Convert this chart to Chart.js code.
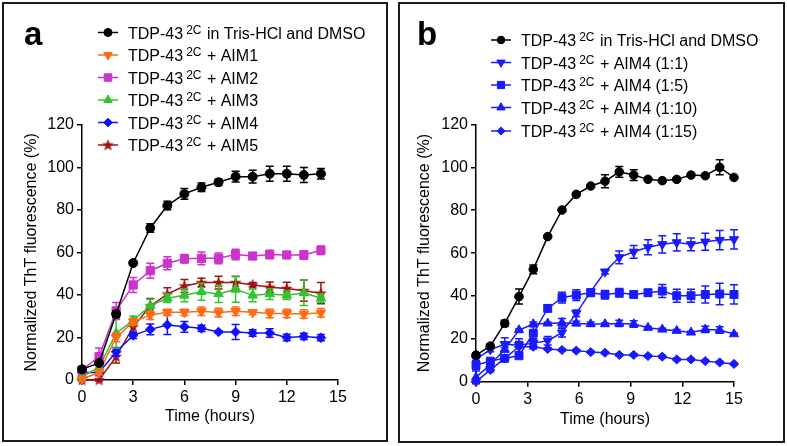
<!DOCTYPE html>
<html>
<head>
<meta charset="utf-8">
<script src="https://cdn.jsdelivr.net/npm/chart.js@4"></script>
<style>
  body { margin: 0; background: #fff; }
  #wrap { position: relative; width: 787px; height: 446px; overflow: hidden; }
  .box { position: absolute; box-sizing: border-box; border: 2px solid #1b1b1b; }
  canvas { position: absolute; top: 0; }
</style>
</head>
<body>
<div id="wrap">
  <div class="box" style="left:2px;top:2px;width:386px;height:440px"></div>
  <div class="box" style="left:398px;top:2px;width:387px;height:441px"></div>
  <canvas id="chartA" width="393" height="446" style="left:0"></canvas>
  <canvas id="chartB" width="394" height="446" style="left:393px"></canvas>
</div>
<script>
// --- data, panel a (one reading per hour) ---
const timeA = [0, 1, 2, 3, 4, 5, 6, 7, 8, 9, 10, 11, 12, 13, 14]
const dmsoA = [5, 8, 31, 55, 71.5, 82, 87.5, 90.6, 93, 95.6, 95.6, 97, 97, 96.4, 97]
const dmsoAErr = [1, 1, 1.5, 1, 2, 2, 2.5, 2, 1.5, 2.5, 3, 3.5, 3.5, 3.5, 2.5]
const aim1 = [0.5, 3.5, 20, 27.4, 30.5, 31.8, 31.8, 32.3, 31.7, 32.3, 31.8, 31.3, 31.3, 31, 31.6]
const aim1Err = [1, 1, 2, 1.5, 2, 1.5, 1.5, 2, 2, 2, 1, 2, 2, 2, 2]
const aim2 = [4.7, 11, 32.5, 44.7, 51.4, 54.9, 57, 57.2, 57.2, 59, 58.3, 59, 58.8, 58.8, 61]
const aim2Err = [1, 4, 4, 3.5, 3.5, 3, 2, 3, 2.5, 2.5, 1.5, 2, 1.5, 2, 2]
const aim3 = [1.5, 6, 22, 28, 35, 38.4, 39.8, 41.5, 40.5, 42.6, 39.8, 40.4, 39.8, 41, 38.4]
const aim3Err = [1, 1.5, 7, 2, 3, 2, 3, 4, 4, 6, 3, 2.5, 2, 6, 2]
const aim4 = [3.5, 3.5, 13.3, 21, 23.8, 25.9, 25, 24.3, 22.6, 22.6, 22.1, 22.1, 20, 20.5, 19.9]
const aim4Err = [1.5, 1.5, 2, 1.5, 2.5, 4.5, 2.5, 1.5, 0.5, 3.5, 1.5, 2, 1.5, 1.5, 1.5]
const aim5 = [0, 0, 11, 25, 34.8, 40.4, 44.2, 45.8, 45.8, 45.8, 44.8, 43.6, 43, 42, 40.8]
const aim5Err = [0.5, 0.5, 3, 3, 3.5, 3, 3, 2, 3, 3, 1, 2.5, 3, 5, 5]

// --- data, panel b (reading every 50 min) ---
const timeB = [0, 0.83, 1.67, 2.5, 3.33, 4.17, 5, 5.83, 6.67, 7.5, 8.33, 9.17, 10, 10.83, 11.67, 12.5, 13.33, 14.17, 15]
const dmsoB = [12.4, 16.6, 27.2, 39.7, 52.4, 67.7, 80.1, 87.4, 91.3, 93.5, 97.9, 96.4, 94.4, 93.8, 94.4, 96.4, 96.1, 100, 95.3]
const dmsoBErr = [1, 1, 1.5, 3.5, 2, 0.5, 0.5, 0.5, 0.5, 3, 2.5, 2.5, 0.5, 0.5, 0.5, 0.5, 0.5, 3.5, 0.5]
const ratio1 = [10.5, 15, 17.5, 17, 18, 19.1, 22.9, 31.9, 42, 51.3, 58, 60.6, 62.7, 64.1, 65, 64.1, 65.3, 66.1, 66.4]
const ratio1Err = [3, 1, 3, 3, 2, 2, 2, 1.5, 1, 1, 3, 3, 3.5, 4, 4, 3, 4, 4.5, 4.5]
const ratio5 = [7.8, 9.6, 10.9, 12.1, 22.6, 34.2, 39.2, 40.4, 41.5, 40.6, 41.5, 40.7, 41.5, 42.3, 40.1, 40.1, 40.7, 40.9, 40.7]
const ratio5Err = [2, 1, 1, 1, 3, 1.5, 2.5, 2.5, 1.5, 2, 2, 0.5, 1.5, 3, 3, 3, 4, 5, 4.5]
const ratio10 = [2, 8, 15, 24.1, 26.9, 27.2, 27.5, 27.2, 26.9, 26.9, 27.2, 26.9, 25.2, 24.4, 23.8, 23, 24.4, 24.1, 22.2]
const ratio10Err = [3, 1, 1, 0.5, 1, 0.5, 2, 1, 1, 0.5, 1.5, 1.5, 0.5, 0.5, 0.5, 0.5, 1.5, 1.5, 0.5]
const ratio15 = [0, 5.5, 10.9, 16.3, 16.3, 15.3, 14.8, 14.5, 13.8, 13.5, 12.5, 12.5, 12, 11.7, 10.4, 10.4, 9.6, 9, 8.3]
const ratio15Err = [0.5, 1, 1, 2.5, 1, 0.5, 0.5, 0.5, 0.5, 0.5, 0.5, 0.5, 0.5, 0.5, 0.5, 0.5, 0.5, 0.5, 0.5]

// legend / axis text
const namesA = [' in Tris-HCl and DMSO', ' + AIM1', ' + AIM2', ' + AIM3', ' + AIM4', ' + AIM5']
const namesB = [' in Tris-HCl and DMSO', ' + AIM4 (1:1)', ' + AIM4 (1:5)', ' + AIM4 (1:10)', ' + AIM4 (1:15)']
const yTicks = [0, 20, 40, 60, 80, 100, 120]
const xTicks = [0, 3, 6, 9, 12, 15]

const FONT = 'Arial, "Liberation Sans", sans-serif'

// filled five point star for AIM5
function starImage(color) {
    const c = document.createElement('canvas')
    c.width = 13; c.height = 13
    const g = c.getContext('2d')
    g.fillStyle = color
    g.beginPath()
    for (let i = 0; i < 10; i++) {
        const r = i % 2 === 0 ? 6.3 : 2.6
        const a = -Math.PI / 2 + i * Math.PI / 5
        const px = 6.5 + r * Math.cos(a), py = 6.8 + r * Math.sin(a)
        i === 0 ? g.moveTo(px, py) : g.lineTo(px, py)
    }
    g.closePath()
    g.fill()
    return c
}

function series(x, y, err, color, style, radius, rotation) {
    return {
        data: x.map((t, i) => ({x: t, y: y[i]})),
        err: err,
        borderColor: color,
        backgroundColor: color,
        pointBackgroundColor: color,
        pointBorderColor: color,
        pointStyle: style,
        pointRadius: radius,
        pointHoverRadius: radius,
        pointRotation: rotation || 0,
        pointBorderWidth: 1,
        borderWidth: 1.5,
        tension: 0,
        clip: false
    }
}

// error bars drawn under each dataset
const errorBars = {
    id: 'errorBars',
    beforeDatasetDraw(chart, args) {
        const ds = chart.data.datasets[args.index]
        if (!ds.err) return
        const ys = chart.scales.y, ctx = chart.ctx
        const meta = chart.getDatasetMeta(args.index)
        ctx.save()
        ctx.strokeStyle = ds.borderColor
        ctx.lineWidth = 1.5
        meta.data.forEach((pt, i) => {
            const e = ds.err[i]
            if (!e) return
            const v = ds.data[i].y
            const top = ys.getPixelForValue(v + e), bot = ys.getPixelForValue(v - e)
            ctx.beginPath()
            ctx.moveTo(pt.x, top); ctx.lineTo(pt.x, bot)
            ctx.moveTo(pt.x - 4, top); ctx.lineTo(pt.x + 4, top)
            ctx.moveTo(pt.x - 4, bot); ctx.lineTo(pt.x + 4, bot)
            ctx.stroke()
        })
        ctx.restore()
    }
}

// legend with superscript + panel letter
const panelLegend = {
    id: 'panelLegend',
    afterDraw(chart, args, opts) {
        const ctx = chart.ctx
        ctx.save()
        ctx.fillStyle = '#000'
        ctx.font = 'bold 33px ' + FONT
        ctx.textBaseline = 'alphabetic'
        ctx.fillText(opts.letter, 24, 45)

        chart.data.datasets.forEach((ds, i) => {
            const x = opts.x, y = opts.rows[i]
            ctx.strokeStyle = ds.borderColor
            ctx.fillStyle = ds.pointBackgroundColor
            ctx.lineWidth = 1.5
            ctx.beginPath(); ctx.moveTo(x - 10, y); ctx.lineTo(x + 10, y); ctx.stroke()
            ctx.lineWidth = 1
            if (Chart.helpers && Chart.helpers.drawPoint) {
                Chart.helpers.drawPoint(ctx, {
                    pointStyle: ds.pointStyle, radius: ds.pointRadius - 0.5,
                    rotation: ds.pointRotation, borderWidth: 1
                }, x, y)
            }
            const base = y + 6
            let tx = x + 20
            ctx.fillStyle = '#000'
            ctx.font = '16px ' + FONT
            ctx.fillText('TDP-43', tx, base)
            tx += ctx.measureText('TDP-43').width + 3
            ctx.font = '12px ' + FONT
            ctx.fillText('2C', tx, base - 5)
            tx += ctx.measureText('2C').width + 1
            ctx.font = '16px ' + FONT
            ctx.fillText(opts.names[i], tx, base)
        })
        ctx.restore()
    }
}

function makeOptions(area, letter, names, rows) {
    return {
        responsive: false,
        animation: false,
        events: [],
        layout: {padding: {left: 0, right: area.right, top: area.top, bottom: 0}},
        plugins: {
            legend: {display: false},
            tooltip: {enabled: false},
            panelLegend: {letter: letter, names: names, rows: rows, x: 108}
        },
        scales: {
            x: {
                type: 'linear', min: 0, max: 15,
                afterFit: s => { s.height = area.xHeight },
                afterBuildTicks: s => { s.ticks = xTicks.map(v => ({value: v})) },
                border: {display: true, color: '#000', width: 1.5},
                grid: {drawOnChartArea: false, drawTicks: true, tickLength: 5, color: '#000', lineWidth: 1.5},
                ticks: {color: '#000', font: {family: FONT, size: 16}, padding: 3, maxRotation: 0, autoSkip: false},
                title: {display: true, text: 'Time (hours)', color: '#000', font: {family: FONT, size: 16}, padding: {top: 0, bottom: area.titleBottom}}
            },
            y: {
                min: 0, max: 120,
                afterFit: s => { s.width = area.yWidth },
                afterBuildTicks: s => { s.ticks = yTicks.map(v => ({value: v})) },
                border: {display: true, color: '#000', width: 1.5},
                grid: {drawOnChartArea: false, drawTicks: true, tickLength: 5, color: '#000', lineWidth: 1.5},
                ticks: {color: '#000', font: {family: FONT, size: 16}, padding: 3, autoSkip: false},
                title: {display: true, text: 'Normalized ThT fluorescence (%)', color: '#000', font: {family: FONT, size: 16}, padding: {top: 22, bottom: 0}}
            }
        }
    }
}

const blue = '#1a1aff'

new Chart(document.getElementById('chartA'), {
    type: 'line',
    data: {
        datasets: [
            series(timeA, dmsoA, dmsoAErr, '#000000', 'circle', 4.5),
            series(timeA, aim1, aim1Err, '#ff6a13', 'triangle', 5.5, 180),
            series(timeA, aim2, aim2Err, '#cc33cc', 'rect', 5.8),
            series(timeA, aim3, aim3Err, '#2fc42f', 'triangle', 5.5),
            series(timeA, aim4, aim4Err, '#1010ff', 'rectRot', 4.8),
            series(timeA, aim5, aim5Err, '#a01212', starImage('#a01212'), 6)
        ]
    },
    options: makeOptions({right: 55, top: 124.8, xHeight: 66, yWidth: 82, titleBottom: 19.7},
        'a', namesA, [32.5, 55, 77.5, 100, 122.5, 145]),
    plugins: [errorBars, panelLegend]
})

new Chart(document.getElementById('chartB'), {
    type: 'line',
    data: {
        datasets: [
            series(timeB, dmsoB, dmsoBErr, '#000000', 'circle', 4.3),
            series(timeB, ratio1, ratio1Err, blue, 'triangle', 5.3, 180),
            series(timeB, ratio5, ratio5Err, blue, 'rect', 5.6),
            series(timeB, ratio10, ratio10Err, blue, 'triangle', 5.3),
            series(timeB, ratio15, ratio15Err, blue, 'rectRot', 4.6)
        ]
    },
    options: makeOptions({right: 53, top: 124.5, xHeight: 64.3, yWidth: 83, titleBottom: 16.4},
        'b', namesB, [40, 62.5, 85, 107.5, 131]),
    plugins: [errorBars, panelLegend]
})
</script>
</body>
</html>
